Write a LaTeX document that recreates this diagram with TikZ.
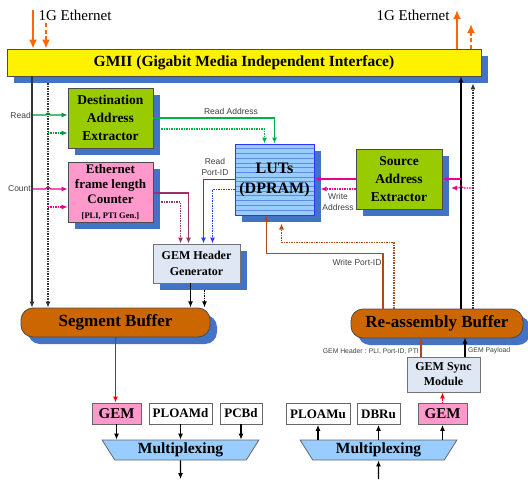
\documentclass[tikz,border=0pt]{standalone}
\usepackage{fontspec}
\setmainfont{Liberation Serif}
\newfontfamily\labelfont{Liberation Sans}
\usepackage{tikz}
\usetikzlibrary{arrows.meta,shapes.geometric,shadows}
\definecolor{shblue}{RGB}{68,114,196}
\definecolor{leaf}{RGB}{153,204,0}
\definecolor{rose}{RGB}{255,153,204}
\definecolor{sky}{RGB}{153,204,255}
\definecolor{paleblue}{RGB}{222,231,243}
\definecolor{rust}{RGB}{204,102,0}
\definecolor{ethorange}{RGB}{255,102,0}
\definecolor{rdgreen}{RGB}{0,153,51}
\definecolor{adgreen}{RGB}{0,176,80}
\definecolor{plum}{RGB}{153,51,102}
\definecolor{portbrown}{RGB}{176,72,24}
\definecolor{portblue}{RGB}{40,60,255}
\definecolor{stripe}{RGB}{90,140,230}
\definecolor{lutedge}{RGB}{51,51,255}

\begin{document}
\begin{tikzpicture}[x=1pt,y=-1pt,>={Latex[length=6pt,width=5pt]},
		box/.style={draw=black!70,line width=.8pt,inner sep=0pt,align=center},
		shd/.style={drop shadow={shadow xshift=7pt,shadow yshift=-7pt,fill=shblue,opacity=1}},
		lbl/.style={font=\labelfont\fontsize{8.5}{11}\selectfont,text=black!75,inner sep=0pt,align=center},
		tiny/.style={font=\labelfont\fontsize{6.8}{8}\selectfont,text=black!75,inner sep=0pt},
		dotln/.style={dash pattern=on 1.5pt off 1pt},
		wire/.style={line width=1.1pt,->},
		eth/.style={line width=2.2pt,ethorange,-{Latex[length=9pt,width=8pt]}}]

	\useasboundingbox (0,0) rectangle (528,483);

	% blocks
	\node[box,shd,fill=yellow,minimum width=474pt,minimum height=27pt,font=\bfseries\fontsize{15.5}{18}\selectfont] (gmii) at (244,62.5) {GMII (Gigabit Media Independent Interface)};
	\node[box,shd,fill=leaf,minimum width=85pt,minimum height=60pt,font=\bfseries\fontsize{13.5}{18}\selectfont] (dae) at (110.5,118) {Destination\\Address\\Extractor};
	\node[box,shd,fill=rose,minimum width=85pt,minimum height=60pt,font=\bfseries\fontsize{13}{15}\selectfont] (ctr) at (110.5,192) {Ethernet\\frame length\\Counter\\{\fontsize{8.5}{12}\selectfont [PLI, PTI Gen.]}};
	\node[box,shd,fill=sky,draw=lutedge,line width=1pt,minimum width=79pt,minimum height=71pt,font=\bfseries\fontsize{16}{20}\selectfont,
		path picture={\foreach \k in {1,...,14}
			\draw[stripe,line width=.6pt] ([yshift=-\k*4.7pt]path picture bounding box.north west) -- ([yshift=-\k*4.7pt]path picture bounding box.north east);}] (lut) at (274.5,179.5) {LUTs\\(DPRAM)};
	\node[box,shd,fill=leaf,minimum width=86pt,minimum height=60pt,font=\bfseries\fontsize{13.5}{18}\selectfont] (sae) at (399,179) {Source\\Address\\Extractor};
	\node[box,shd,fill=paleblue,draw=black!55,minimum width=87pt,minimum height=39pt,font=\bfseries\fontsize{12}{16}\selectfont] (ggen) at (196.5,263.5) {GEM Header\\Generator};
	\node[box,shd,fill=rust,rounded corners=12pt,minimum width=189pt,minimum height=29pt,font=\bfseries\fontsize{17}{20}\selectfont] (seg) at (115.5,322.5) {Segment Buffer};
	\node[box,shd,fill=rust,rounded corners=12pt,minimum width=172pt,minimum height=29pt,font=\bfseries\fontsize{17}{20}\selectfont] (rab) at (437,323.5) {Re-assembly Buffer};
	\node[box,fill=paleblue,draw=black!55,minimum width=73pt,minimum height=35pt,font=\bfseries\fontsize{12}{15}\selectfont] (sync) at (443.5,374.5) {GEM Sync\\Module};

	% frames and multiplexers
	\node[box,fill=rose,draw=black!60,minimum width=49pt,minimum height=21pt,font=\bfseries\fontsize{15}{18}\selectfont] (geml) at (116.5,413.5) {GEM};
	\node[box,draw=black!60,minimum width=63pt,minimum height=21pt,font=\bfseries\fontsize{13}{16}\selectfont] (ploamd) at (180.5,413.5) {PLOAMd};
	\node[box,draw=black!60,minimum width=42pt,minimum height=21pt,font=\bfseries\fontsize{13}{16}\selectfont] (pcbd) at (241,413.5) {PCBd};
	\node[box,draw=black!60,minimum width=64pt,minimum height=21pt,font=\bfseries\fontsize{13}{16}\selectfont] (ploamu) at (318,414) {PLOAMu};
	\node[box,draw=black!60,minimum width=43pt,minimum height=21pt,font=\bfseries\fontsize{13}{16}\selectfont] (dbru) at (378.5,414) {DBRu};
	\node[box,fill=rose,draw=black!60,minimum width=49pt,minimum height=21pt,font=\bfseries\fontsize{15}{18}\selectfont] (gemr) at (442.5,414) {GEM};
	\node[box,fill=sky,draw=black!60,trapezium,trapezium stretches=true,trapezium angle=60,shape border rotate=180,minimum width=157pt,minimum height=20pt,font=\bfseries\fontsize{15.5}{18}\selectfont] (muxl) at (180.5,450) {Multiplexing};
	\node[box,fill=sky,draw=black!60,trapezium,trapezium stretches=true,trapezium angle=60,shape border rotate=180,minimum width=157pt,minimum height=20pt,font=\bfseries\fontsize{15.5}{18}\selectfont] (muxr) at (378.5,450) {Multiplexing};

	% texts
	\node[font=\fontsize{15}{18}\selectfont,inner sep=0pt] (ethl) at (75,15) {1G Ethernet};
	\node[font=\fontsize{15}{18}\selectfont,inner sep=0pt] (ethr) at (413,15) {1G Ethernet};
	\node[lbl,anchor=east] (readlbl) at (31,115) {Read};
	\node[lbl,anchor=east] (countlbl) at (31,189) {Count};
	\node[lbl] (raddr) at (231,111) {Read Address};
	\node[lbl] (rport) at (215,166.5) {Read\\Port-ID};
	\node[lbl] (waddr) at (338,202) {Write\\Address};
	\node[lbl] (wport) at (357,262) {Write Port-ID};
	\node[tiny,anchor=east] (hdrlbl) at (419,351) {GEM Header : PLI, Port-ID, PTI};
	\node[tiny,anchor=west] (paylbl) at (468,351) {GEM Payload};

	\coordinate (ethin1) at (33,10);
	\coordinate (ethin2) at (46,23);
	\coordinate (ethout1) at (457,10);
	\coordinate (ethout2) at (471,24);
	\coordinate (cA) at (32,0);
	\coordinate (cB) at (48,0);
	\coordinate (cC) at (461,0);
	\coordinate (cD) at (473,188);
	\coordinate (outl) at (180.5,479);
	\coordinate (inr) at (378.5,479);

	% ethernet
	\draw[eth] (ethin1) -- (ethin1 |- gmii.north);
	\draw[eth,dash pattern=on 4pt off 2.5pt] (ethin2) -- (ethin2 |- gmii.north);
	\draw[eth] (ethout1 |- gmii.north) -- (ethout1);
	\draw[eth,dash pattern=on 4pt off 2.5pt] (ethout2 |- gmii.north) -- (ethout2);

	% downstream side
	\draw[wire,black!80] (cA |- gmii.south) -- (cA |- seg.north);
	\draw[wire,black!80,dotln,shorten <=7pt] (cB |- gmii.south) -- (cB |- seg.north);
	\draw[wire,rdgreen] ([xshift=2pt]readlbl.east) -- ++(13,0) arc[start angle=180,end angle=360,radius=2] -- ([yshift=3pt]dae.west);
	\draw[wire,rdgreen,dotln] ([xshift=-20pt,yshift=-15pt]dae.west) -- ([yshift=-15pt]dae.west);
	\draw[wire,magenta] ([xshift=2pt]countlbl.east) -- ++(13,0) arc[start angle=180,end angle=360,radius=2] -- ([yshift=3pt]ctr.west);
	\draw[wire,magenta,dotln] ([xshift=-20pt,yshift=-15pt]ctr.west) -- ([yshift=-15pt]ctr.west);
	\draw[wire,adgreen] (dae.east) -| (lut.north);
	\draw[wire,adgreen,dotln,shorten <=8pt] ([yshift=-11pt]dae.east) -| ([xshift=-10pt]lut.north);
	\draw[wire,plum] ([yshift=-1pt]ctr.east) -| ([xshift=-8pt]ggen.north);
	\draw[wire,plum,dotln,shorten <=8pt] ([yshift=-10pt]ctr.east) -| ([xshift=-16pt]ggen.north);
	\draw[wire,portblue] (lut.west) -| ([xshift=7pt]ggen.north);
	\draw[wire,portblue,dotln] ([yshift=-10pt]lut.west) -| ([xshift=16pt]ggen.north);
	\draw[wire,black] ([xshift=-6pt]ggen.south) -- ++(0,24);
	\draw[wire,black,dotln,shorten <=7pt] ([xshift=8pt]ggen.south) -- ++(0,24);
	\draw[wire,red,line width=1.4pt] (seg.south) -- (seg.south |- geml.north);
	\foreach \f in {geml,ploamd,pcbd}
		\draw[wire,black] (\f.south) -- (\f.south |- muxl.north);
	\draw[wire,black] (muxl.south) -- (outl);

	% upstream side
	\draw[wire,black] (inr) -- (muxr.south);
	\foreach \f in {ploamu,dbru,gemr}
		\draw[wire,black] (\f.south |- muxr.north) -- (\f.south);
	\draw[wire,red,dotln,line width=1.4pt] (gemr.north) -- (gemr.north |- sync.south);
	\draw[wire,portbrown] ([xshift=-22.5pt]sync.north) -- ++(0,-19);
	\draw[wire,black] ([xshift=21.5pt]sync.north) -- ++(0,-19);
	\draw[wire,black] (cC |- rab.north) -- (cC |- gmii.south);
	\draw[wire,black!80,dotln,shorten >=7pt] (cD |- rab.north) -- (cD |- gmii.south);
	\draw[wire,magenta] (cC |- sae.east) -- (sae.east);
	\draw[wire,magenta,dotln] (cD) -- ++(-10,0) arc[start angle=0,end angle=-180,radius=2] -- ++(-8,0);
	\draw[wire,magenta] (sae.west) -- (sae.west -| lut.east);
	\draw[wire,magenta,dotln] ([yshift=-10pt]sae.west) -- ++(-35,0);
	\draw[wire,portbrown] ([xshift=-54pt]rab.north) |- ([xshift=-8pt,yshift=-38pt]lut.south) -- ([xshift=-8pt]lut.south);
	\draw[wire,portbrown,dotln] ([xshift=-43pt]rab.north) |- ([xshift=7pt,yshift=-27pt]lut.south) -- ([xshift=7pt,yshift=-8pt]lut.south);
\end{tikzpicture}
\end{document}
